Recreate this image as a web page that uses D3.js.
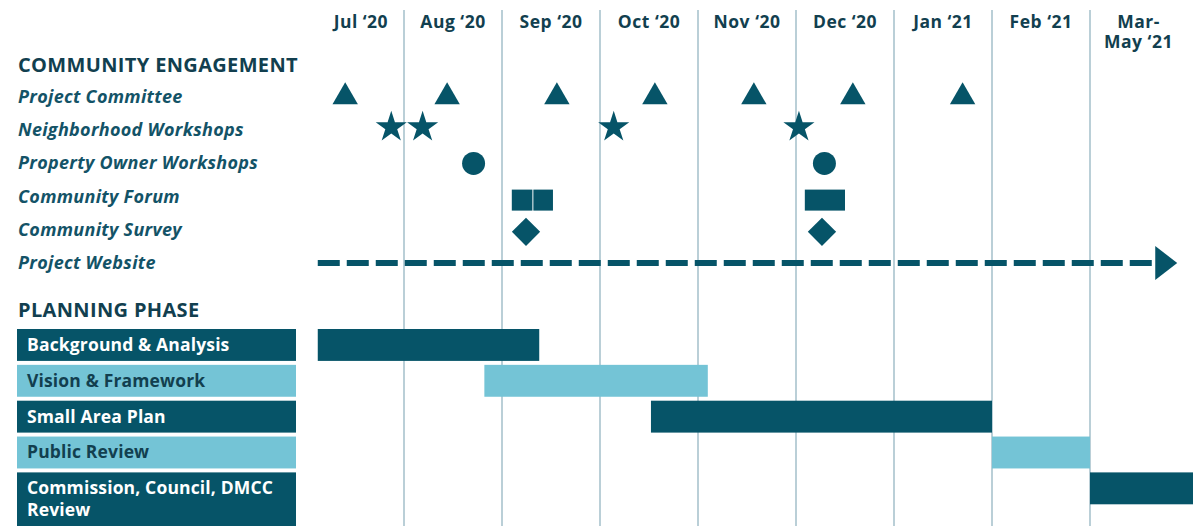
<!DOCTYPE html>
<html>
<head>
<meta charset="utf-8">
<script src="https://cdn.jsdelivr.net/npm/d3@7"></script>
<style>
  body { margin: 0; background: #fff; }
  svg { display: block; font-family: "Open Sans", Lato, sans-serif; }
</style>
</head>
<body>
<div id="chart"></div>
<script>
// months on the top, the last column is Mar-May
const months = ["Jul ‘20", "Aug ‘20", "Sep ‘20", "Oct ‘20", "Nov ‘20", "Dec ‘20", "Jan ‘21", "Feb ‘21", "Mar-|May ‘21"]

const engagementRows = ["Project Committee", "Neighborhood Workshops", "Property Owner Workshops",
  "Community Forum", "Community Survey", "Project Website"]

// times are in months since Jul 1 2020
const committeeMeetings = [0.40, 1.44, 2.56, 3.56, 4.57, 5.58, 6.70]
const neighborhoodWorkshops = [0.87, 1.19, 3.14, 5.03]
const ownerWorkshops = [1.71, 5.29]
const forumEvents = [[2.10, 2.31], [2.32, 2.52], [5.09, 5.50]]
const surveys = [2.245, 5.265]
const websiteSpan = [0.12, 8.89]

const phases = ["Background & Analysis", "Vision & Framework", "Small Area Plan",
  "Public Review", "Commission, Council, DMCC|Review"]
const phaseStart = [0.12, 1.82, 3.52, 7.0, 8.0]
const phaseEnd = [2.38, 4.10, 7.0, 8.0, 9.1]

const width = 1193, height = 526
const dark = "#065468", light = "#74c4d6", grid = "#a3bfca", ink = "#123f4f"

const svg = d3.select("#chart").append("svg")
  .attr("width", width)
  .attr("height", height)

const x = d3.scaleLinear().domain([0, 8]).range([306, 1090])
const row = d3.scalePoint().domain(engagementRows).range([97, 263])
const band = d3.scaleBand().domain(phases).range([329, 504.3]).paddingInner(0.11)

const chartLeft = x(websiteSpan[0])

// vertical month lines
svg.append("g")
  .selectAll("line")
  .data(d3.range(1, 9))
  .join("line")
  .attr("x1", d => x(d)).attr("x2", d => x(d))
  .attr("y1", 10).attr("y2", height)
  .attr("stroke", grid)
  .attr("stroke-width", 1.5)

// month labels, centered in each column (Mar-May gets two lines)
const edges = [chartLeft, ...d3.range(1, 9).map(x), width]
const monthLines = months.flatMap((m, i) =>
  m.split("|").map((t, j) => ({ t, i, j })))
svg.append("g")
  .selectAll("text")
  .data(monthLines)
  .join("text")
  .attr("x", d => (edges[d.i] + edges[d.i + 1]) / 2 - (d.i === 8 ? 3 : 0))
  .attr("y", d => 28 + d.j * 20)
  .attr("text-anchor", "middle")
  .attr("font-size", 17.5)
  .attr("font-weight", 700)
  .attr("letter-spacing", 0.5)
  .attr("fill", ink)
  .text(d => d.t)

// section titles
svg.append("g")
  .selectAll("text")
  .data([["COMMUNITY ENGAGEMENT", 72], ["PLANNING PHASE", 317]])
  .join("text")
  .attr("x", 18)
  .attr("y", d => d[1])
  .attr("font-size", 20)
  .attr("font-weight", 700)
  .attr("letter-spacing", 0.35)
  .attr("fill", ink)
  .text(d => d[0])

// engagement row labels
svg.append("g")
  .selectAll("text")
  .data(engagementRows)
  .join("text")
  .attr("x", 18)
  .attr("y", d => row(d) + 6)
  .attr("font-size", 18)
  .attr("font-weight", 700)
  .attr("font-style", "italic")
  .attr("letter-spacing", 0.3)
  .attr("fill", "#135367")
  .text(d => d)

const marks = svg.append("g").attr("fill", dark)

marks.selectAll(".tri")
  .data(committeeMeetings)
  .join("path")
  .attr("class", "tri")
  .attr("transform", d => `translate(${x(d)},${row("Project Committee")})`)
  .attr("d", d3.symbol(d3.symbolTriangle, 279))

marks.selectAll(".star")
  .data(neighborhoodWorkshops)
  .join("path")
  .attr("class", "star")
  .attr("transform", d => `translate(${x(d)},${row("Neighborhood Workshops") - 3})`)
  .attr("d", d3.symbol(d3.symbolStar, 300))

marks.selectAll(".dot")
  .data(ownerWorkshops)
  .join("path")
  .attr("class", "dot")
  .attr("transform", d => `translate(${x(d)},${row("Property Owner Workshops")})`)
  .attr("d", d3.symbol(d3.symbolCircle, 415))

marks.selectAll(".forum")
  .data(forumEvents)
  .join("rect")
  .attr("class", "forum")
  .attr("x", d => x(d[0]))
  .attr("width", d => x(d[1]) - x(d[0]))
  .attr("y", row("Community Forum") - 7)
  .attr("height", 21)

marks.selectAll(".survey")
  .data(surveys)
  .join("path")
  .attr("class", "survey")
  .attr("transform", d => `translate(${x(d)},${row("Community Survey") + 2}) rotate(45)`)
  .attr("d", d3.symbol(d3.symbolSquare, 400))

// website: dashed line with an arrow head
const wy = row("Project Website")
const headLen = 22
svg.append("path")
  .datum([websiteSpan[0], websiteSpan[1]])
  .attr("d", d => d3.line()([[x(d[0]), wy], [x(d[1]) - headLen, wy]]))
  .attr("stroke", dark)
  .attr("stroke-width", 6)
  .attr("stroke-dasharray", "22 7")
  .attr("fill", "none")
svg.append("path")
  .datum(websiteSpan[1])
  .attr("d", d => d3.line()([[x(d) - headLen, wy - 17], [x(d), wy], [x(d) - headLen, wy + 17]]) + "Z")
  .attr("fill", dark)

// planning phase labels on the left
const labelBox = svg.append("g")
  .selectAll("g")
  .data(phases)
  .join("g")
labelBox.append("rect")
  .attr("x", 17)
  .attr("y", d => band(d))
  .attr("width", 279)
  .attr("height", (d, i) => i === phases.length - 1 ? height - band(d) : band.bandwidth())
  .attr("fill", (d, i) => i % 2 ? light : dark)
const labelText = labelBox.append("text")
  .attr("x", 27)
  .attr("y", d => band(d) + band.bandwidth() / 2 + 6)
  .attr("font-size", 17.5)
  .attr("font-weight", 700)
  .attr("letter-spacing", 0.15)
  .attr("fill", (d, i) => i % 2 ? ink : "#fff")
labelText.selectAll("tspan")
  .data(d => d.split("|"))
  .join("tspan")
  .attr("x", 27)
  .attr("dy", (d, i) => i ? 22 : 0)
  .text(d => d)

// phase bars
svg.append("g")
  .selectAll("rect")
  .data(phases)
  .join("rect")
  .attr("x", (d, i) => x(phaseStart[i]))
  .attr("width", (d, i) => Math.min(x(phaseEnd[i]), width) - x(phaseStart[i]))
  .attr("y", d => band(d))
  .attr("height", band.bandwidth())
  .attr("fill", (d, i) => i % 2 ? light : dark)
</script>
</body>
</html>
